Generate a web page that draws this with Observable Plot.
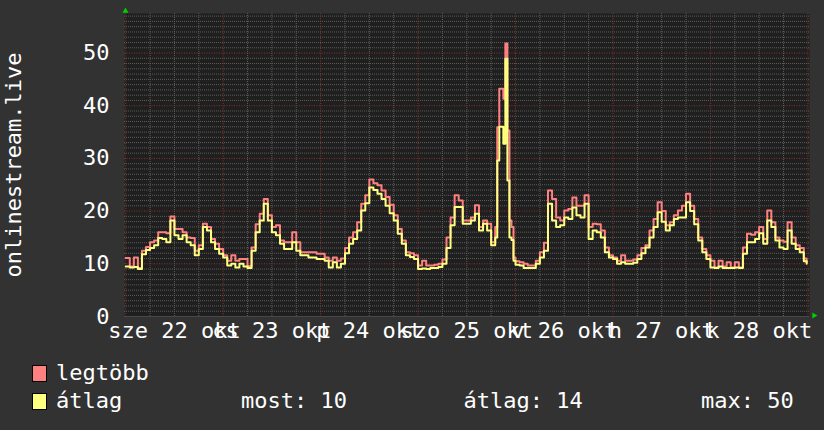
<!DOCTYPE html>
<html><head><meta charset="utf-8">
<script src="https://cdn.jsdelivr.net/npm/d3@7"></script>
<script src="https://cdn.jsdelivr.net/npm/@observablehq/plot@0.6"></script>
<style>
html,body{margin:0;padding:0;background:#323232;}
#wrap{position:relative;width:824px;height:430px;background:#323232;font-family:"DejaVu Sans Mono",monospace;color:#fff;overflow:hidden;}
#chart svg{display:block}
.lg{position:absolute;font-size:22px;line-height:28px;white-space:pre;color:#fff;}
.sw{position:absolute;width:13px;height:15px;border:1px solid #000;}
</style></head><body>
<div id="wrap"><div id="chart"></div><div id="legend"></div></div>
<script>
// hours since 22 Oct 00:00
const hours = [
  0,1,2,3,4,5,6,7,8,9,
  10,11,12,13,14,15,16,17,18,19,
  20,21,22,23,24,25,26,27,28,29,
  30,31,32,33,34,35,36,37,38,39,
  40,41,42,43,44,45,46,47,48,49,
  50,51,52,53,54,55,56,57,58,59,
  60,61,62,63,64,65,66,67,68,69,
  70,71,72,73,74,75,76,77,78,79,
  80,81,82,83,84,85,86,87,88,89,
  90,
  91,91.5,92,92.5,93,93.5,94,94.5,95,95.5,
  96,97,98,99,100,101,102,103,104,105,
  106,107,108,109,110,111,112,113,114,115,
  116,117,118,119,120,121,122,123,124,125,
  126,127,128,129,130,131,132,133,134,135,
  136,137,138,139,140,141,142,143,144,145,
  146,147,148,149,150,151,152,153,154,155,
  156,157,158,159,160,161,162,163,164,165,
  166,167,
  167.7
];
// "legtöbb" (maximum) series
const maxVals = [
  11.1,9.5,11.2,9.2,12.5,13.2,14.1,14.4,16.0,16.0,
  15.8,19.0,16.6,16.6,16.0,15.0,14.9,12.5,13.5,17.6,
  17.0,14.7,13.8,12.8,11.6,10.6,11.6,10.6,10.9,10.9,
  9.6,13.1,17.5,19.5,22.3,19.2,17.0,17.3,14.4,14.1,
  14.1,16.0,14.1,12.2,12.2,12.2,12.2,11.9,11.9,11.2,
  10.6,11.2,10.6,11.0,13.0,15.0,16.0,17.9,21.4,23.0,
  26.0,25.3,24.9,23.9,22.7,21.2,19.2,16.6,14.4,12.2,
  12.0,11.6,9.7,10.6,9.7,9.7,9.8,10.0,10.8,15.0,
  18.8,23.0,22.0,18.2,18.2,18.8,21.1,17.0,18.2,17.6,
  14.1,
  17.0,35.9,43.2,43.2,41.3,51.8,35.3,18.2,17.0,11.2,
  10.5,10.3,10.0,9.7,9.7,10.6,12.2,14.0,23.9,22.3,
  18.8,18.2,20.1,20.4,22.6,21.0,21.0,23.0,17.0,17.6,
  17.5,16.3,13.1,11.6,11.2,10.6,11.6,10.6,10.6,10.8,
  11.6,13.0,13.5,16.3,18.5,21.7,20.0,17.3,17.9,19.2,
  20.1,21.0,23.3,21.0,18.5,15.0,12.8,11.6,10.6,9.3,
  10.6,9.5,10.3,9.3,10.3,9.3,13.1,15.7,15.5,16.0,
  17.0,14.7,20.1,17.9,15.0,14.4,14.2,17.9,15.0,13.5,
  13.0,11.0,
  10.3
];
// "átlag" (average) series
const avgVals = [
  9.5,9.3,9.4,9.0,11.8,12.6,13.0,13.5,14.9,14.7,
  14.1,18.2,15.4,14.7,15.4,14.1,13.5,11.6,12.8,17.0,
  16.3,14.1,12.8,11.9,11.2,9.7,10.0,9.3,10.0,9.5,
  9.2,12.5,16.0,18.2,21.4,18.2,16.0,15.4,13.8,12.8,
  12.8,14.1,12.5,11.6,11.6,11.2,11.2,10.9,10.9,10.6,
  9.3,10.3,9.3,10.0,12.0,13.8,14.7,16.3,20.1,21.5,
  24.5,24.0,23.3,22.3,21.0,19.6,18.2,15.7,13.8,11.6,
  11.3,10.9,9.0,9.1,9.0,9.2,9.2,9.4,10.0,13.0,
  17.3,20.8,20.8,17.6,17.6,18.2,19.5,16.3,17.6,16.3,
  13.5,
  15.0,29.6,36.0,36.0,32.8,48.9,25.8,15.0,14.5,10.6,
  9.8,9.7,9.2,9.2,9.2,10.0,11.2,12.5,21.4,18.2,
  17.0,17.3,18.8,18.5,20.7,19.2,18.8,21.4,14.7,16.3,
  16.0,15.0,12.2,11.2,10.9,10.0,10.3,10.0,10.0,10.2,
  10.9,12.0,13.1,15.0,17.0,19.8,18.0,16.3,17.3,18.5,
  18.8,18.8,21.7,20.0,17.5,14.4,12.2,10.9,9.3,9.2,
  9.5,9.2,9.2,9.2,9.3,9.2,11.9,14.1,14.1,14.7,
  15.8,13.8,18.2,17.0,14.4,13.1,12.8,16.3,13.8,12.8,
  12.2,10.5,
  10.0
];
const dayLabels = ["sze 22 okt","cs 23 okt","p 24 okt","szo 25 okt","v 26 okt","h 27 okt","k 28 okt"];
const labelHours = [12,36,60,84,108,132,156];
const yTicks = [0,10,20,30,40,50];
const yTitle = "onlinestream.live";
const seriesNames = ["legtöbb","átlag"];
const seriesColors = ["#ff8080","#ffff80"];
const statNames = ["most","átlag","max"];
const statValues = [10,14,50];

const rows = hours.map((h,i)=>({h, max:maxVals[i], avg:avgVals[i]}));
const minorY = d3.range(1,58).filter(v=>v%10!==0);
const majorY = d3.range(10,58,10);
const minorX = d3.range(6,168,6).filter(v=>v%24!==0);
const majorX = d3.range(0,169,24);

const chart = Plot.plot({
  width:824, height:350,
  marginLeft:124, marginRight:15, marginTop:13, marginBottom:34,
  style:{background:"transparent", color:"#fff", fontFamily:"'DejaVu Sans Mono', monospace", fontSize:"22px"},
  x:{domain:[-0.3,168.4], label:null},
  y:{domain:[0,57.5], label:null},
  marks:[
    Plot.frame({fill:"#1f1f1f", stroke:null}),
    Plot.ruleY(minorY,{stroke:"#5c5c5c", strokeDasharray:"1,1"}),
    Plot.ruleX(minorX,{stroke:"#5c5c5c", strokeDasharray:"1,1"}),
    Plot.ruleY(majorY,{stroke:"#8a3232", strokeDasharray:"1,1.5"}),
    Plot.ruleX(majorX,{stroke:"#8a3232", strokeDasharray:"1,1.5"}),
    Plot.ruleY([0],{stroke:"#484848"}),
    Plot.line(rows,{x:"h", y:"max", stroke:seriesColors[0], strokeWidth:2, curve:"step-after"}),
    Plot.line(rows,{x:"h", y:"avg", stroke:seriesColors[1], strokeWidth:2, curve:"step-after"}),
    Plot.axisY(yTicks,{anchor:"left", tickSize:0, tickPadding:15, fontSize:22, fill:"#fff", label:null}),
    Plot.axisX(labelHours,{anchor:"bottom", tickSize:0, tickPadding:6, fontSize:22, fill:"#fff", label:null,
      tickFormat:d=>dayLabels[labelHours.indexOf(d)]}),
    Plot.text([yTitle],{frameAnchor:"left", rotate:-90, dx:-119, lineAnchor:"top", textAnchor:"middle", fill:"#fff", fontSize:22}),
    Plot.dot([0],{frameAnchor:"top-left", symbol:"triangle", r:2.2, fill:"#00d000", stroke:null, dx:1, dy:-2.5}),
    Plot.dot([0],{frameAnchor:"bottom-right", symbol:"triangle", rotate:90, r:2.2, fill:"#00d000", stroke:null, dx:4.5, dy:-1})
  ]
});
document.getElementById("chart").append(chart);

const lg = document.getElementById("legend");
function add(cls, left, top, text, bg){
  const el = document.createElement("div");
  el.className = cls; el.style.left = left+"px"; el.style.top = top+"px";
  if (text != null) el.textContent = text;
  if (bg) el.style.background = bg;
  lg.append(el);
}
add("sw",32,365,null,seriesColors[0]);
add("lg",56,359,seriesNames[0]);
add("sw",32,393,null,seriesColors[1]);
add("lg",56,387,seriesNames[1]);
const statLeft = [241,463.5,701];
statNames.forEach((n,i)=>add("lg",statLeft[i],387,`${n}: ${statValues[i]}`));
</script></body></html>
